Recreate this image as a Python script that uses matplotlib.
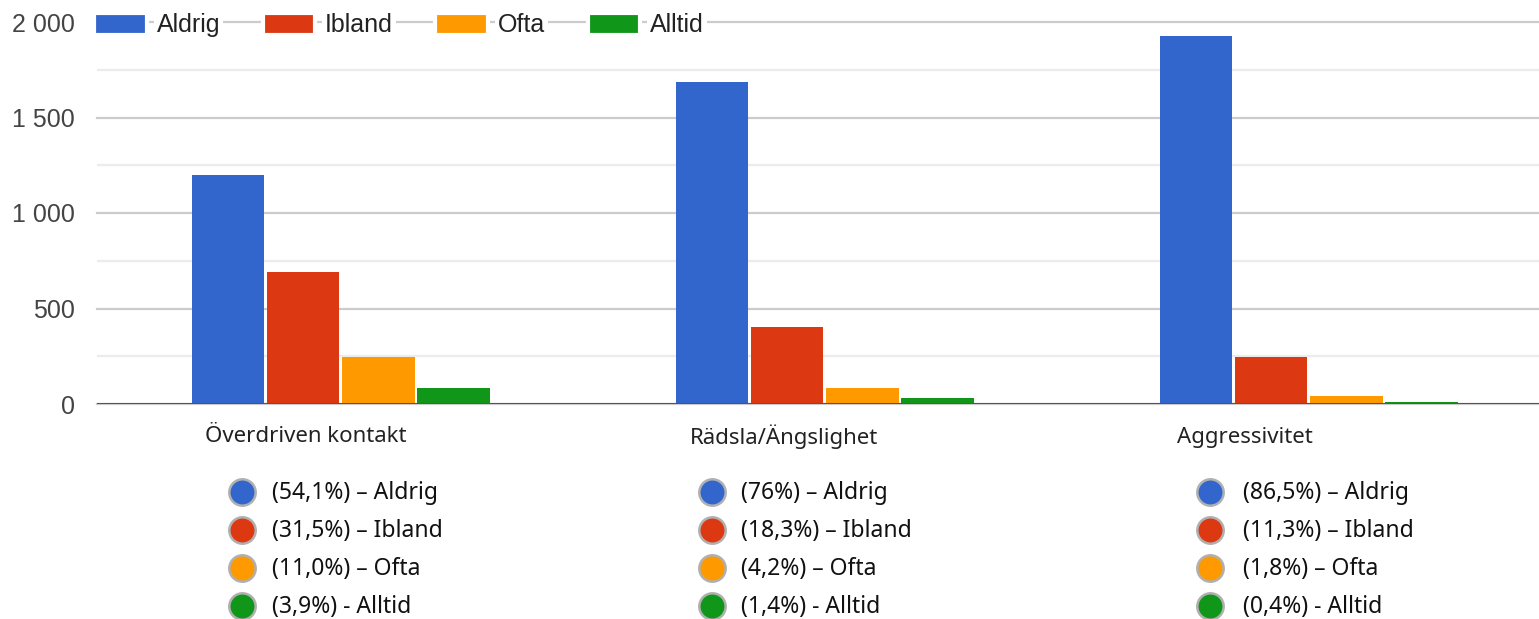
import matplotlib.pyplot as plt
from matplotlib.patches import Patch
from matplotlib.lines import Line2D
import numpy as np

# Data
categories = ['Överdriven kontakt', 'Rädsla/Ängslighet', 'Aggressivitet']
series = ['Aldrig', 'Ibland', 'Ofta', 'Alltid']
aldrig = [1200, 1687, 1926]
ibland = [690, 405, 247]
ofta = [245, 86, 41]
alltid = [86, 29, 9]
colors = ['#3366CC', '#DC3912', '#FF9900', '#109618']

# percentage labels under each category
pct_labels = [
    ['(54,1%) – Aldrig', '(31,5%) – Ibland', '(11,0%) – Ofta', '(3,9%) - Alltid'],
    ['(76%) – Aldrig', '(18,3%) – Ibland', '(4,2%) – Ofta', '(1,4%) - Alltid'],
    ['(86,5%) – Aldrig', '(11,3%) – Ibland', '(1,8%) – Ofta', '(0,4%) - Alltid'],
]

W, H = 1539, 619
fig = plt.figure(figsize=(W / 100, H / 100), dpi=100)
ax = fig.add_axes([97 / W, 215 / H, (1549 - 97) / W, 382 / H])

x = np.arange(len(categories))
values = [aldrig, ibland, ofta, alltid]
for k, vals in enumerate(values):
    ax.bar(x + (k - 1.5) * 0.155 + 0.004, vals, width=0.149, color=colors[k], zorder=3)

ax.set_xlim(-0.5, 2.5)
ax.set_ylim(0, 2000)
ax.set_yticks([0, 500, 1000, 1500, 2000])
ax.set_yticklabels(['0', '500', '1 000', '1 500', '2 000'])
ax.set_yticks([250, 750, 1250, 1750], minor=True)
ax.tick_params(axis='y', which='both', length=0, pad=16, labelsize=18,
               labelcolor='#444444')
for lab in ax.get_yticklabels():
    lab.set_fontfamily('Liberation Sans')
ax.set_xticks([])
ax.grid(axis='y', which='major', color='#cccccc', lw=1.6, zorder=0, clip_on=False)
ax.grid(axis='y', which='minor', color='#ececec', lw=1.6, zorder=0)
for s in ['top', 'right', 'left', 'bottom']:
    ax.spines[s].set_visible(False)
ax.axhline(0, color='#555555', lw=2.2, zorder=4)

# category labels (left aligned under each group)
label_font = ['Noto Sans', 'DejaVu Sans']
label_x = [205, 690, 1177]
for i, cat in enumerate(categories):
    fig.text(label_x[i] / W, 1 - 437 / H, cat, fontsize=16, family=label_font,
             color='#222222', ha='left', va='center')

# percentage legends under each group
circle_x = [242, 712, 1210]
text_x = [272, 741, 1243]
row_y = [492, 530, 568, 606]
for i in range(len(categories)):
    for k in range(len(series)):
        fig.add_artist(Line2D([circle_x[i] / W], [1 - row_y[k] / H], marker='o',
                              markersize=19, markerfacecolor=colors[k],
                              markeredgecolor='#b0b0b0', markeredgewidth=1.8,
                              transform=fig.transFigure, linestyle='none'))
        fig.text(text_x[i] / W, 1 - (row_y[k] + 1) / H, pct_labels[i][k],
                 fontsize=16.5, family=label_font, color='#111111',
                 ha='left', va='center')

# top legend
handles = [Patch(facecolor=c, edgecolor='white', linewidth=3) for c in colors]
leg = fig.legend(handles, series, loc='center left',
                 bbox_to_anchor=(94 / W, 1 - 25 / H), ncol=4, frameon=False,
                 prop={'family': 'Liberation Sans', 'size': 18},
                 handlelength=2.1, handleheight=1.0, handletextpad=0.4,
                 columnspacing=1.7, borderaxespad=0, borderpad=0)
for t in leg.get_texts():
    t.set_color('#222222')
    t.set_bbox(dict(facecolor='white', edgecolor='none', pad=2))

fig.savefig('out.png', dpi=100)
